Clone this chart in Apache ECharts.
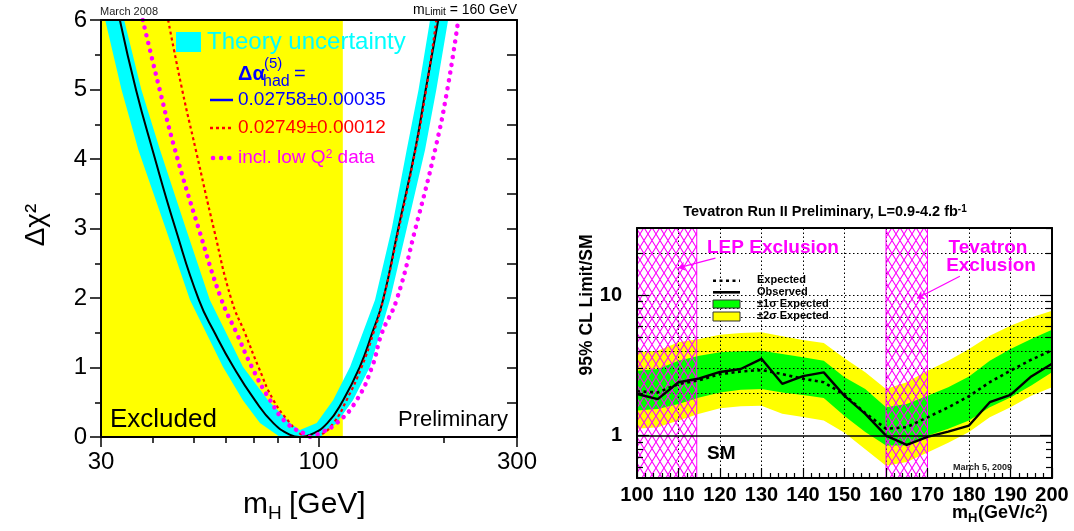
<!DOCTYPE html>
<html><head><meta charset="utf-8">
<script src="https://cdn.jsdelivr.net/npm/echarts@6/dist/echarts.min.js"></script>
<style>html,body{margin:0;padding:0;background:#fff}#c{width:1074px;height:531px}</style>
</head><body><div id="c"></div>
<script>
// ===== Left panel: Δχ² versus mH [GeV] =====
const excludedRange = [[30, 114.4]];
const chiCentral = [[33.3,6],[36.4,5],[39.9,4.13],[45.3,3],[51.6,1.97],[56.4,1.49],[62.4,1.01],[70.3,0.53],[77.9,0.2],[85.5,0.03],[90,0],[95.4,0.03],[105,0.2],[114.6,0.53],[125.7,1.01],[134.5,1.49],[142.9,1.97],[155.5,3],[170.7,4.13],[181,5],[194,6]];
const chiAlpha2 = [[43.5,6],[47,5],[50.7,4.13],[56,3],[61.8,1.97],[66.6,1.49],[71.7,1.01],[77.9,0.53],[85.4,0.2],[90.2,0.05],[95.4,0],[100.9,0.03],[108.6,0.2],[116.8,0.53],[127,1.01],[135.4,1.49],[143,1.97],[156,3],[171,4.13],[181.5,5],[192,6]];
const chiLowQ2 = [[37.8,6],[41.5,5],[45.2,4.13],[51.5,3],[58.5,1.97],[63.6,1.49],[69.1,1.01],[76.5,0.53],[83.9,0.2],[93.7,0.03],[96,0],[99,0.03],[110.6,0.2],[123.5,0.53],[134.5,1.01],[141.9,1.49],[154,1.97],[171,3],[190.6,4.13],[204,5],[216.7,6]];
const bandOuter = [[30.7,6],[33.6,5],[36.9,4.13],[42.9,3],[49.1,1.97],[58.9,1.01],[65.8,0.53],[72.3,0.2],[80.8,0],[100.9,0],[110.6,0.2],[121,0.53],[133,1.01],[148.5,1.97],[163,3],[180.3,4.13],[192,5],[204.9,6]];
const bandInner = [[34.1,6],[37.5,5],[41.6,4.13],[48,3],[54.8,1.97],[65.8,1.01],[75.6,0.53],[85.4,0.2],[90.2,0.1],[99,0.2],[108.4,0.53],[119.1,1.01],[136.7,1.97],[150,3],[162.9,4.13],[174,5],[185.4,6]];
const leftXLabels = [30, 100, 300];
const leftXMinor = [40, 50, 60, 70, 80, 90, 200];

// ===== Right panel: 95% CL limit / SM versus mH =====
const massPoints = [100,105,110,115,120,125,130,135,140,145,150,155,160,165,170,175,180,185,190,195,200];
const observed   = [1.98,1.82,2.40,2.55,2.84,2.98,3.52,2.34,2.65,2.82,1.92,1.43,1.00,0.86,0.98,1.07,1.18,1.73,1.95,2.64,3.25];
const expected   = [2.07,2.03,2.33,2.48,2.74,2.86,2.93,2.74,2.54,2.40,1.95,1.45,1.12,1.15,1.35,1.59,1.91,2.40,2.90,3.47,4.05];
const sigma1Up   = [2.90,2.98,3.41,3.70,3.92,3.98,4.02,3.81,3.61,3.41,2.60,2.15,1.59,1.68,1.92,2.21,2.64,3.41,4.13,4.87,5.66];
const sigma1Down = [1.51,1.55,1.68,1.87,2.03,2.12,2.15,2.03,1.95,1.85,1.38,1.06,0.85,0.85,1.00,1.12,1.28,1.59,1.87,2.27,2.82];
const sigma2Up   = [3.92,4.02,4.61,4.87,5.22,5.37,5.43,5.09,4.79,4.56,3.55,2.82,2.15,2.40,2.90,3.41,4.13,5.14,6.05,6.94,7.73];
const sigma2Down = [1.12,1.15,1.28,1.43,1.57,1.62,1.63,1.43,1.36,1.28,1.05,0.80,0.61,0.65,0.76,0.89,1.06,1.35,1.59,1.92,2.21];
const exclusionRanges = [[100, 114.4], [160, 170]];
const gridYValues = [2,3,4,5,6,7,8,9,10,20];
const gridXValues = [110,120,130,140,150,160,170,180,190];
const rightYLabels = [1, 10];
const rightYMinor = [0.6,0.7,0.8,0.9,2,3,4,5,6,7,8,9,20,30];

const F = '"Liberation Sans", Arial, sans-serif';
const zip = (xs, ys) => xs.map((x, i) => [x, ys[i]]);

function makeHatch() {
  const c = document.createElement('canvas');
  c.width = 8; c.height = 13;
  const g = c.getContext('2d');
  g.strokeStyle = '#ff00ff'; g.lineWidth = 1.1;
  g.beginPath();
  g.moveTo(-1, -1.625); g.lineTo(9, 14.625);
  g.moveTo(9, -1.625); g.lineTo(-1, 14.625);
  g.stroke();
  return c;
}
const hatch = makeHatch();

function bandRender(upper, lower, color) {
  return function (params, api) {
    if (params.dataIndex !== 0) return null;
    const pts = upper.map(p => api.coord(p));
    for (let i = lower.length - 1; i >= 0; i--) pts.push(api.coord(lower[i]));
    return { type: 'polygon', shape: { points: pts }, style: { fill: color } };
  };
}
function spanRender(fill, stroke) {
  return function (params, api) {
    const cs = params.coordSys;
    const a = api.coord([api.value(0), 1])[0];
    const b = api.coord([api.value(1), 1])[0];
    return { type: 'rect', shape: { x: a, y: cs.y, width: b - a, height: cs.height },
      style: { fill: fill, stroke: stroke || null, lineWidth: stroke ? 1 : 0 } };
  };
}

const up1 = zip(massPoints, sigma1Up), dn1 = zip(massPoints, sigma1Down);
const up2 = zip(massPoints, sigma2Up), dn2 = zip(massPoints, sigma2Down);

function txt(x, y, text, font, fill, align, extra) {
  return Object.assign({ type: 'text', x: x, y: y, z: 100,
    style: { text: text, font: font, fill: fill || '#000', textAlign: align || 'left', textVerticalAlign: 'middle' } }, extra || {});
}
function ln(x1, y1, x2, y2, stroke, w, dash, cap) {
  return { type: 'line', z: 100, shape: { x1, y1, x2, y2 },
    style: { stroke: stroke, lineWidth: w, lineDash: dash || null, lineCap: cap || 'butt' } };
}

const axisLineBlack = { show: true, onZero: false, lineStyle: { color: '#000', width: 2 } };

const option = {
  animation: false,
  backgroundColor: '#fff',
  grid: [
    { left: 101, top: 20, width: 416, height: 417 },
    { left: 637, top: 228, width: 415, height: 250 }
  ],
  xAxis: [
    { gridIndex: 0, type: 'log', logBase: 10, min: 30, max: 300, position: 'bottom', z: 10,
      axisLine: axisLineBlack,
      axisTick: { show: true, customValues: leftXLabels, length: 10, lineStyle: { color: '#000', width: 1.5 } },
      axisLabel: { show: true, customValues: leftXLabels, fontSize: 24, fontFamily: F, color: '#000', margin: 13 },
      splitLine: { show: false } },
    { gridIndex: 0, type: 'log', logBase: 10, min: 30, max: 300, position: 'bottom', z: 10,
      axisLine: { show: false, onZero: false },
      axisTick: { show: true, customValues: leftXMinor, length: 6, lineStyle: { color: '#000', width: 1.5 } },
      axisLabel: { show: false }, splitLine: { show: false } },
    { gridIndex: 0, type: 'log', logBase: 10, min: 30, max: 300, position: 'top', z: 10,
      axisLine: axisLineBlack, axisTick: { show: false }, axisLabel: { show: false }, splitLine: { show: false } },
    { gridIndex: 1, type: 'value', min: 100, max: 200, interval: 10, position: 'bottom', z: 10,
      axisLine: axisLineBlack,
      axisTick: { show: true, inside: true, length: 10, lineStyle: { color: '#000', width: 1.2 } },
      minorTick: { show: true, splitNumber: 5, length: 5, lineStyle: { color: '#000', width: 1.2 } },
      axisLabel: { fontSize: 20, fontWeight: 'bold', fontFamily: F, color: '#000', margin: 7 },
      splitLine: { show: false } },
    { gridIndex: 1, type: 'value', min: 100, max: 200, interval: 10, position: 'top', z: 10,
      axisLine: axisLineBlack, axisTick: { show: false }, axisLabel: { show: false }, splitLine: { show: false } }
  ],
  yAxis: [
    { gridIndex: 0, type: 'value', min: 0, max: 6, interval: 1, position: 'left', z: 10,
      axisLine: axisLineBlack,
      axisTick: { show: true, length: 11, lineStyle: { color: '#000', width: 1.5 } },
      minorTick: { show: true, splitNumber: 2, length: 6, lineStyle: { color: '#000', width: 1.5 } },
      axisLabel: { fontSize: 24, fontFamily: F, color: '#000', margin: 14 },
      splitLine: { show: false } },
    { gridIndex: 0, type: 'value', min: 0, max: 6, interval: 1, position: 'right', z: 10,
      axisLine: axisLineBlack,
      axisTick: { show: true, inside: true, length: 10, lineStyle: { color: '#000', width: 1.5 } },
      minorTick: { show: true, splitNumber: 2, length: 10, lineStyle: { color: '#000', width: 1.5 } },
      axisLabel: { show: false }, splitLine: { show: false } },
    { gridIndex: 1, type: 'log', logBase: 10, min: 0.5, max: 30, position: 'left', z: 10,
      axisLine: axisLineBlack,
      axisTick: { show: true, inside: true, customValues: rightYLabels, length: 12, lineStyle: { color: '#000', width: 1.2 } },
      axisLabel: { show: true, customValues: rightYLabels, fontSize: 20, fontWeight: 'bold', fontFamily: F, color: '#000', margin: 15 },
      splitLine: { show: false } },
    { gridIndex: 1, type: 'log', logBase: 10, min: 0.5, max: 30, position: 'left', z: 10,
      axisLine: { show: false, onZero: false },
      axisTick: { show: true, inside: true, customValues: rightYMinor, length: 6, lineStyle: { color: '#000', width: 1.2 } },
      axisLabel: { show: false }, splitLine: { show: false } },
    { gridIndex: 1, type: 'log', logBase: 10, min: 0.5, max: 30, position: 'right', z: 10,
      axisLine: axisLineBlack,
      axisTick: { show: true, inside: true, customValues: rightYLabels, length: 12, lineStyle: { color: '#000', width: 1.2 } },
      axisLabel: { show: false }, splitLine: { show: false } },
    { gridIndex: 1, type: 'log', logBase: 10, min: 0.5, max: 30, position: 'right', z: 10,
      axisLine: { show: false, onZero: false },
      axisTick: { show: true, inside: true, customValues: rightYMinor, length: 6, lineStyle: { color: '#000', width: 1.2 } },
      axisLabel: { show: false }, splitLine: { show: false } }
  ],
  series: [
    // ---- left panel
    { type: 'custom', name: 'excluded', xAxisIndex: 0, yAxisIndex: 0, z: 1, clip: true, silent: true,
      data: excludedRange, renderItem: spanRender('#ffff00') },
    { type: 'custom', name: 'theory', xAxisIndex: 0, yAxisIndex: 0, z: 2, clip: true, silent: true,
      data: bandOuter, renderItem: bandRender(bandOuter, bandInner, '#00ffff') },
    { type: 'line', name: 'central', xAxisIndex: 0, yAxisIndex: 0, z: 4, data: chiCentral, smooth: 0.5,
      showSymbol: false, symbol: 'none', clip: true, lineStyle: { color: '#000', width: 2 } },
    { type: 'line', name: 'alpha2', xAxisIndex: 0, yAxisIndex: 0, z: 4, data: chiAlpha2, smooth: 0.5,
      showSymbol: false, symbol: 'none', clip: true, lineStyle: { color: '#ff0000', width: 2.2, type: [3, 3] } },
    { type: 'line', name: 'lowQ2', xAxisIndex: 0, yAxisIndex: 0, z: 4, data: chiLowQ2, smooth: 0.5,
      showSymbol: false, symbol: 'none', clip: true, lineStyle: { color: '#ff00ff', width: 4.5, type: [0.1, 7.8], cap: 'round' } },
    // ---- right panel
    { type: 'custom', name: '2sigma', xAxisIndex: 3, yAxisIndex: 2, z: 1, clip: true, silent: true,
      data: up2, renderItem: bandRender(up2, dn2, '#ffff00') },
    { type: 'custom', name: '1sigma', xAxisIndex: 3, yAxisIndex: 2, z: 2, clip: true, silent: true,
      data: up1, renderItem: bandRender(up1, dn1, '#00ff00') },
    { type: 'custom', name: 'hatch', xAxisIndex: 3, yAxisIndex: 2, z: 4, clip: true, silent: true,
      data: exclusionRanges, renderItem: spanRender({ image: hatch, repeat: 'repeat' }, '#ff00ff') },
    { type: 'line', name: 'Expected', xAxisIndex: 3, yAxisIndex: 2, z: 5, data: zip(massPoints, expected),
      showSymbol: false, symbol: 'none', lineStyle: { color: '#000', width: 2.6, type: [3, 3.5] },
      markLine: { silent: true, symbol: 'none', z: 3, animation: false, label: { show: false },
        lineStyle: { color: '#000', width: 1, type: [1.5, 2.5] },
        data: gridYValues.map(v => ({ yAxis: v })).concat(gridXValues.map(v => ({ xAxis: v }))) } },
    { type: 'line', name: 'Observed', xAxisIndex: 3, yAxisIndex: 2, z: 5, data: zip(massPoints, observed),
      showSymbol: false, symbol: 'none', lineStyle: { color: '#000', width: 2.4 },
      markLine: { silent: true, symbol: 'none', z: 5, animation: false, label: { show: false },
        lineStyle: { color: '#000', width: 1.6, type: 'solid' },
        data: [
          { yAxis: 1 },
          [{ coord: [118.9, 18.3], symbol: 'none', lineStyle: { color: '#ff00ff', width: 1.2 } },
           { coord: [109.9, 15.6], symbol: 'arrow', symbolSize: 7 }],
          [{ coord: [177.8, 13.6], symbol: 'none', lineStyle: { color: '#ff00ff', width: 1.2 } },
           { coord: [167.5, 9.5], symbol: 'arrow', symbolSize: 7 }]
        ] } }
  ],
  graphic: [
    // left panel texts
    txt(100, 12, 'March 2008', '11px ' + F, '#222'),
    { type: 'text', x: 517, y: 10, z: 100, style: { text: '{a|m}{b|Limit}{a| = 160 GeV}', textAlign: 'right', textVerticalAlign: 'middle',
      rich: { a: { fontSize: 14, fontFamily: F, fill: '#000', color: '#000' }, b: { fontSize: 10, fontFamily: F, verticalAlign: 'bottom', fill: '#000', color: '#000' } } } },
    { type: 'rect', z: 100, shape: { x: 176, y: 32, width: 25, height: 20 }, style: { fill: '#00ffff' } },
    txt(207, 42, 'Theory uncertainty', '24px ' + F, '#00ffff'),
    txt(238, 74, 'Δα', 'bold 20px ' + F, '#0000ff'),
    txt(264, 64, '(5)', '15px ' + F, '#0000ff'),
    txt(263, 82, 'had', '16px ' + F, '#0000ff'),
    txt(294, 74, '=', '20px ' + F, '#0000ff'),
    ln(210, 100, 233, 100, '#0000ff', 2.5),
    txt(238, 100, '0.02758±0.00035', '19px ' + F, '#0000ff'),
    ln(210, 128, 233, 128, '#ff0000', 2.5, [3, 3]),
    txt(238, 128, '0.02749±0.00012', '19px ' + F, '#ff0000'),
    ln(213, 158, 230, 158, '#ff00ff', 4.5, [0.1, 8], 'round'),
    { type: 'text', x: 238, y: 158, z: 100, style: { text: '{a|incl. low Q}{b|2}{a| data}', textAlign: 'left', textVerticalAlign: 'middle',
      rich: { a: { fontSize: 19, fontFamily: F, fill: '#ff00ff', color: '#ff00ff' }, b: { fontSize: 12, fontFamily: F, verticalAlign: 'top', fill: '#ff00ff', color: '#ff00ff' } } } },
    txt(110, 420, 'Excluded', '26px ' + F, '#000'),
    txt(508, 420, 'Preliminary', '22px ' + F, '#000', 'right'),
    txt(36, 225, 'Δχ²', '28px ' + F, '#000', 'center', { rotation: Math.PI / 2 }),
    txt(243, 505, 'm', '30px ' + F),
    txt(268, 514, 'H', '19px ' + F),
    txt(289, 505, '[GeV]', '30px ' + F),
    // right panel texts
    { type: 'text', x: 825, y: 212, z: 100, style: { text: '{a|Tevatron Run II Preliminary, L=0.9-4.2 fb}{b|-1}', textAlign: 'center', textVerticalAlign: 'middle',
      rich: { a: { fontSize: 14.5, fontWeight: 'bold', fontFamily: F, fill: '#000', color: '#000' }, b: { fontSize: 10, fontWeight: 'bold', fontFamily: F, verticalAlign: 'top', fill: '#000', color: '#000' } } } },
    txt(587, 305, '95% CL Limit/SM', 'bold 17.5px ' + F, '#000', 'center', { rotation: Math.PI / 2 }),
    txt(952, 513, 'm', 'bold 18px ' + F),
    txt(968, 518, 'H', 'bold 13px ' + F),
    { type: 'text', x: 978, y: 513, z: 100, style: { text: '{a|(GeV/c}{b|2}{a|)}', textAlign: 'left', textVerticalAlign: 'middle',
      rich: { a: { fontSize: 18, fontWeight: 'bold', fontFamily: F, fill: '#000', color: '#000' }, b: { fontSize: 12, fontWeight: 'bold', fontFamily: F, verticalAlign: 'top', fill: '#000', color: '#000' } } } },
    ln(713, 280.7, 740, 280.7, '#000', 2.6, [3, 3.5]),
    txt(757, 280, 'Expected', 'bold 11px ' + F),
    ln(713, 292.3, 740, 292.3, '#000', 2.6),
    txt(757, 292, 'Observed', 'bold 11px ' + F),
    { type: 'rect', z: 100, shape: { x: 713, y: 300, width: 27, height: 8 }, style: { fill: '#00ff00', stroke: '#333', lineWidth: 1 } },
    txt(757, 304, '±1σ Expected', 'bold 11px ' + F),
    { type: 'rect', z: 100, shape: { x: 713, y: 312, width: 27, height: 9 }, style: { fill: '#ffff00', stroke: '#333', lineWidth: 1 } },
    txt(757, 316, '±2σ Expected', 'bold 11px ' + F),
    txt(707, 248, 'LEP Exclusion', 'bold 19px ' + F, '#ff00ff'),
    txt(988, 248, 'Tevatron', 'bold 19px ' + F, '#ff00ff', 'center'),
    txt(991, 266, 'Exclusion', 'bold 19px ' + F, '#ff00ff', 'center'),
    txt(707, 454, 'SM', 'bold 19px ' + F),
    txt(953, 468, 'March 5, 2009', 'bold 9px ' + F, '#222')
  ]
};

const chart = echarts.init(document.getElementById('c'), null, { renderer: 'canvas' });
chart.setOption(option);
</script>
</body></html>
